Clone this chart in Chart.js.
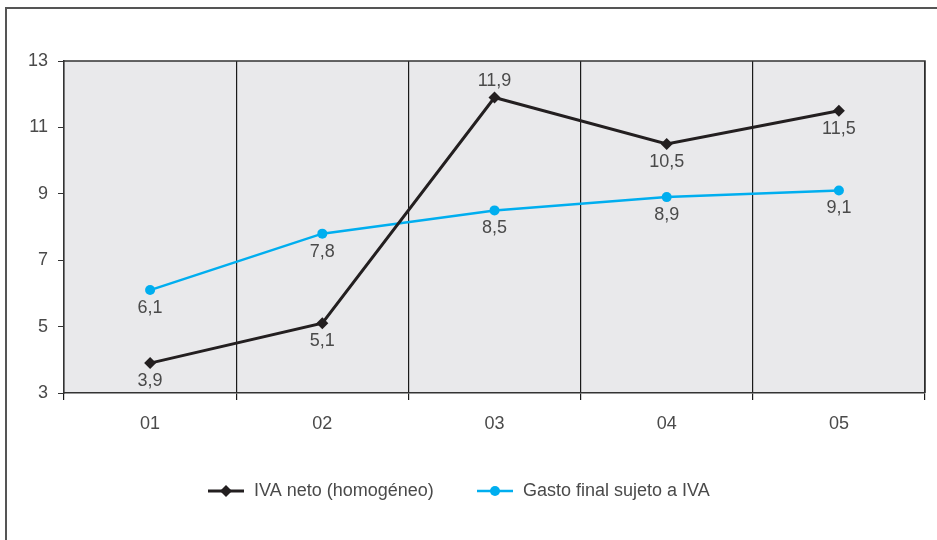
<!DOCTYPE html>
<html>
<head>
<meta charset="utf-8">
<script src="https://cdn.jsdelivr.net/npm/chart.js@4.4.0/dist/chart.umd.min.js"></script>
<style>
    html, body { margin: 0; padding: 0; background: #fff; }
    .wrap { position: relative; width: 937px; height: 540px; }
    .frame { position: absolute; left: 5px; top: 7px; right: 0; bottom: 0; border-left: 2px solid #555; border-top: 2px solid #555; pointer-events: none; }
    canvas { position: absolute; left: 0; top: 0; }
</style>
</head>
<body>
<div class="wrap">
    <canvas id="chart" width="937" height="540"></canvas>
    <div class="frame"></div>
</div>
<script>
// Data
const categories = ['01', '02', '03', '04', '05'];
const ivaNeto = [3.9, 5.1, 11.9, 10.5, 11.5];
const gastoFinal = [6.1, 7.8, 8.5, 8.9, 9.1];
const yTicks = [3, 5, 7, 9, 11, 13];
const seriesNames = ['IVA neto (homogéneo)', 'Gasto final sujeto a IVA'];

const BLACK = '#231f20';
const BLUE = '#00aeef';
const TEXT = '#4a4a4a';
const FONT = "'Liberation Sans', Arial, sans-serif";
const FSIZE = 18;

// label above/below point (only 11,9 sits above)
const labelAbove = [[false, false, true, false, false], [false, false, false, false, false]];

const fmt = v => v.toFixed(1).replace('.', ',');

// grey plot background + top/right border
const plotBg = {
    id: 'plotBg',
    beforeDraw(chart) {
        const a = chart.chartArea, ctx = chart.ctx;
        ctx.save();
        ctx.fillStyle = '#e9e9eb';
        ctx.fillRect(a.left, a.top, a.right - a.left, a.bottom - a.top);
        ctx.restore();
    },
    afterDraw(chart) {
        const a = chart.chartArea, ctx = chart.ctx;
        ctx.save();
        ctx.strokeStyle = '#333';
        ctx.lineWidth = 1.5;
        ctx.beginPath();
        ctx.moveTo(a.left, a.top);
        ctx.lineTo(a.right, a.top);
        ctx.lineTo(a.right, a.bottom);
        ctx.stroke();
        ctx.restore();
    }
};

// value labels
const valueLabels = {
    id: 'valueLabels',
    afterDatasetsDraw(chart) {
        const ctx = chart.ctx;
        ctx.save();
        ctx.font = FSIZE + 'px ' + FONT;
        ctx.fillStyle = TEXT;
        ctx.textAlign = 'center';
        chart.data.datasets.forEach((ds, i) => {
            chart.getDatasetMeta(i).data.forEach((pt, j) => {
                if (labelAbove[i][j]) {
                    ctx.textBaseline = 'bottom';
                    ctx.fillText(fmt(ds.data[j]), pt.x, pt.y - 7);
                } else {
                    ctx.textBaseline = 'top';
                    ctx.fillText(fmt(ds.data[j]), pt.x, pt.y + 9);
                }
            });
        });
        ctx.restore();
    }
};

// legend: line + marker + text
const customLegend = {
    id: 'customLegend',
    afterDraw(chart) {
        const ctx = chart.ctx;
        const items = [
            { x: 208, color: BLACK, style: 'rectRot', r: 6, w: 3 },
            { x: 477, color: BLUE, style: 'circle', r: 5, w: 2.5 }
        ];
        const y = 491;
        ctx.save();
        items.forEach((it, i) => {
            ctx.strokeStyle = it.color;
            ctx.lineWidth = it.w;
            ctx.beginPath();
            ctx.moveTo(it.x, y);
            ctx.lineTo(it.x + 36, y);
            ctx.stroke();
            ctx.fillStyle = it.color;
            Chart.helpers.drawPoint(ctx, { pointStyle: it.style, radius: it.r, borderWidth: 0 }, it.x + 18, y);
            ctx.fillStyle = TEXT;
            ctx.font = FSIZE + 'px ' + FONT;
            ctx.textAlign = 'left';
            ctx.textBaseline = 'middle';
            ctx.fillText(seriesNames[i], it.x + 46, y);
        });
        ctx.restore();
    }
};

new Chart(document.getElementById('chart'), {
    type: 'line',
    data: {
        labels: categories,
        datasets: [{
            label: seriesNames[0],
            data: ivaNeto,
            borderColor: BLACK,
            backgroundColor: BLACK,
            borderWidth: 3,
            pointStyle: 'rectRot',
            pointRadius: 6,
            pointBorderWidth: 0,
            tension: 0
        }, {
            label: seriesNames[1],
            data: gastoFinal,
            borderColor: BLUE,
            backgroundColor: BLUE,
            borderWidth: 2.5,
            pointStyle: 'circle',
            pointRadius: 5,
            pointBorderWidth: 0,
            tension: 0
        }]
    },
    options: {
        responsive: false,
        animation: false,
        layout: { padding: { left: 0, top: 61, right: 12, bottom: 97 } },
        plugins: {
            legend: { display: false },
            tooltip: { enabled: false }
        },
        scales: {
            x: {
                offset: true,
                grid: {
                    offset: true,
                    color: '#1a1a1a',
                    lineWidth: 1.2,
                    tickLength: 7
                },
                border: { color: '#333', width: 1.5 },
                ticks: {
                    color: TEXT,
                    font: { family: FONT, size: FSIZE },
                    padding: 13
                },
                afterFit(scale) { scale.height = 50; }
            },
            y: {
                min: 3,
                max: 13,
                afterBuildTicks(scale) { scale.ticks = yTicks.map(v => ({ value: v })); },
                grid: {
                    drawOnChartArea: false,
                    color: '#333',
                    tickLength: 6
                },
                border: { color: '#333', width: 1.5 },
                ticks: {
                    color: TEXT,
                    font: { family: FONT, size: FSIZE },
                    padding: 10
                },
                afterFit(scale) { scale.width = 64; }
            }
        }
    },
    plugins: [plotBg, valueLabels, customLegend]
});
</script>
</body>
</html>
